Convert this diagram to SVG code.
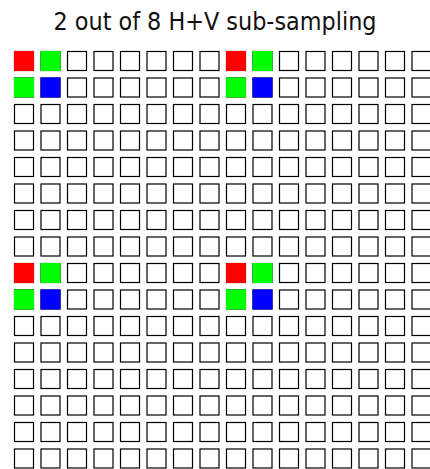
<svg xmlns="http://www.w3.org/2000/svg" xmlns:xlink="http://www.w3.org/1999/xlink" width="430" height="469" viewBox="0 0 430 469">
<style>
.c{fill:#fff;stroke:#000;stroke-width:1.2}
.t{font-family:"DejaVu Sans Condensed","DejaVu Sans",sans-serif;font-size:24px;fill:#111}
</style>
<defs>
<rect id="s" class="c" x="14.5" y="51.5" width="19" height="19"/>
<g id="row">
<use xlink:href="#s"/><use xlink:href="#s" x="26.5"/><use xlink:href="#s" x="53"/><use xlink:href="#s" x="79.5"/>
<use xlink:href="#s" x="106"/><use xlink:href="#s" x="132.5"/><use xlink:href="#s" x="159"/><use xlink:href="#s" x="185.5"/>
<use xlink:href="#s" x="212"/><use xlink:href="#s" x="238.5"/><use xlink:href="#s" x="265"/><use xlink:href="#s" x="291.5"/>
<use xlink:href="#s" x="318"/><use xlink:href="#s" x="344.5"/><use xlink:href="#s" x="371"/><use xlink:href="#s" x="397.5"/>
</g>
<g id="q">
<rect x="14" y="51" width="20" height="20" fill="#ff0000"/>
<rect x="40.5" y="51" width="20" height="20" fill="#00ff00"/>
<rect x="14" y="77.5" width="20" height="20" fill="#00ff00"/>
<rect x="40.5" y="77.5" width="20" height="20" fill="#0000ff"/>
</g>
</defs>
<rect width="430" height="469" fill="#fff"/>
<text class="t" x="215" y="30" text-anchor="middle" textLength="323" lengthAdjust="spacingAndGlyphs">2 out of 8 H+V sub-sampling</text>
<g id="grid">
<use xlink:href="#row"/><use xlink:href="#row" y="26.5"/><use xlink:href="#row" y="53"/><use xlink:href="#row" y="79.5"/>
<use xlink:href="#row" y="106"/><use xlink:href="#row" y="132.5"/><use xlink:href="#row" y="159"/><use xlink:href="#row" y="185.5"/>
<use xlink:href="#row" y="212"/><use xlink:href="#row" y="238.5"/><use xlink:href="#row" y="265"/><use xlink:href="#row" y="291.5"/>
<use xlink:href="#row" y="318"/><use xlink:href="#row" y="344.5"/><use xlink:href="#row" y="371"/><use xlink:href="#row" y="397.5"/>
</g>
<g id="samples">
<use xlink:href="#q"/><use xlink:href="#q" x="212"/><use xlink:href="#q" y="212"/><use xlink:href="#q" x="212" y="212"/>
</g>
</svg>
